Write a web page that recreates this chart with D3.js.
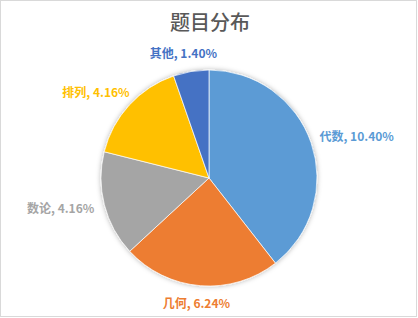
<!DOCTYPE html>
<html>
<head>
<meta charset="UTF-8">
<script src="https://cdn.jsdelivr.net/npm/d3@7/dist/d3.min.js"></script>
<title>题目分布</title>
<style>
  body { margin: 0; background: #fff; }
  text { font-family: "Noto Sans CJK SC", "Noto Sans", sans-serif; }
</style>
</head>
<body>
<div id="chart"></div>
<script>
// 数据
var categories = ["代数", "几何", "数论", "排列", "其他"];
var values = [10.40, 6.24, 4.16, 4.16, 1.40];
var colors = ["#5b9bd5", "#ed7d31", "#a5a5a5", "#ffc000", "#4472c4"];

var width = 418, height = 318,
    cx = 209, cy = 178, radius = 108,
    labelGap = 11;

var svg = d3.select("#chart").append("svg")
    .attr("width", width)
    .attr("height", height);

// 外框
svg.append("rect")
    .attr("x", 0.5).attr("y", 0.5)
    .attr("width", width - 2).attr("height", height - 2)
    .attr("fill", "#fff")
    .attr("stroke", "#d9d9d9");

// 阴影
var defs = svg.append("defs");
var f = defs.append("filter").attr("id", "shadow")
    .attr("x", "-20%").attr("y", "-20%").attr("width", "140%").attr("height", "140%");
f.append("feDropShadow")
    .attr("dx", 0).attr("dy", 0)
    .attr("stdDeviation", 2.5)
    .attr("flood-color", "#000")
    .attr("flood-opacity", 0.3);

// 标题
svg.append("text")
    .attr("x", 210).attr("y", 30)
    .attr("text-anchor", "middle")
    .attr("fill", "#595959")
    .style("font-size", "20px")
    .style("font-weight", 500)
    .text("题目分布");

var pie = d3.pie().sort(null).value(function(d){ return d; });
var arcs = pie(values);
var arc = d3.arc().innerRadius(0).outerRadius(radius);

var g = svg.append("g").attr("transform", "translate(" + cx + "," + cy + ")");

g.append("g").attr("filter", "url(#shadow)")
  .selectAll("path")
  .data(arcs)
  .enter()
  .append("path")
    .attr("d", arc)
    .attr("fill", function(d, i){ return colors[i]; })
    .attr("stroke", "#fff")
    .attr("stroke-width", 0.7);

// 标签
var labels = g.selectAll("text.lbl")
  .data(arcs)
  .enter()
  .append("text")
    .attr("class", "lbl")
    .attr("fill", function(d, i){ return colors[i]; })
    .style("font-size", "12px")
    .style("font-weight", "bold");

labels.append("tspan").text(function(d, i){ return categories[i] + ", "; });
labels.append("tspan").style("font-weight", 600)
    .text(function(d){ return d.value.toFixed(2) + "%"; });

labels.each(function(d){
  var a = (d.startAngle + d.endAngle) / 2,
      s = Math.sin(a), c = -Math.cos(a),
      rr = radius + labelGap,
      px = rr * s, py = rr * c;
  var bb = this.getBBox(), w = bb.width, h = 14;
  var left = px - w * (1 - s) / 2;
  var midY = py + (h / 2) * c;
  d3.select(this)
    .attr("x", left)
    .attr("y", midY + 4);
});
</script>
</body>
</html>
